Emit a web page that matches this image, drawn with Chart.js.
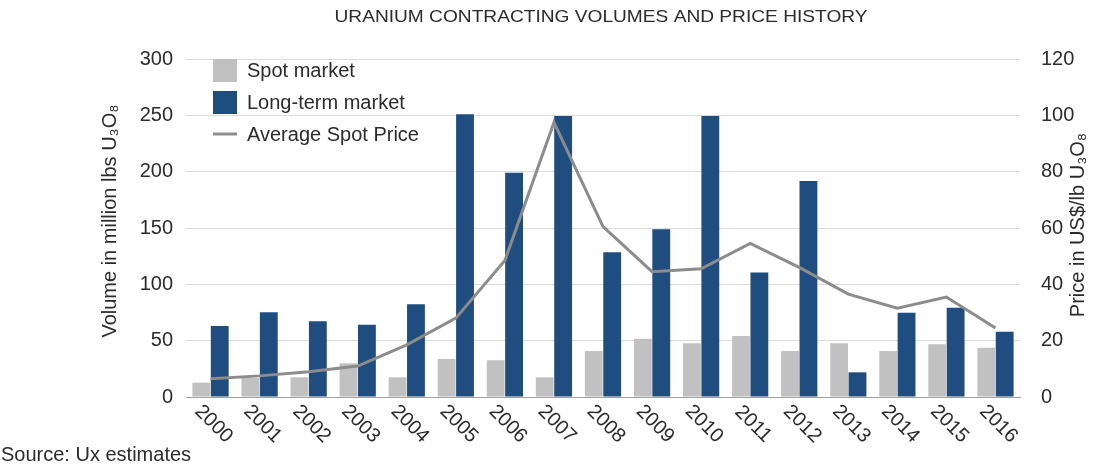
<!DOCTYPE html>
<html>
<head>
<meta charset="utf-8">
<script src="https://cdn.jsdelivr.net/npm/chart.js@4"></script>
<style>
  html, body { margin: 0; padding: 0; background: #fff; }
  #wrap { width: 1099px; height: 464px; position: relative; }
</style>
</head>
<body>
<div id="wrap"><canvas id="myChart" width="1099" height="464"></canvas></div>
<script>
const years = ['2000','2001','2002','2003','2004','2005','2006','2007','2008','2009','2010','2011','2012','2013','2014','2015','2016'];
const spotVolume = [12.7, 16.9, 17.5, 29.9, 17.5, 33.7, 32.6, 17.5, 40.8, 51.7, 47.6, 54.1, 40.8, 47.6, 40.8, 46.8, 43.7];
const longTermVolume = [63, 75.2, 67.2, 64.2, 82.3, 251, 199, 249.3, 128.4, 148.8, 249.3, 110.6, 191.7, 21.9, 74.8, 79.2, 57.9];
const spotPrice = [6.5, 7.5, 9, 11, 18.5, 28, 48.5, 97.5, 60.5, 44.5, 45.5, 54.5, 46, 36.5, 31.5, 35.5, 24.5];
const volumeTicks = [0, 50, 100, 150, 200, 250, 300];
const priceTicks = [0, 20, 40, 60, 80, 100, 120];

const FONT = '"Liberation Sans", Arial, Helvetica, sans-serif';
const TEXT = '#2b2b2b';

// titel, legenda, as-labels en bron tekenen
const decorations = {
    id: 'decorations',
    afterDraw(chart) {
        const ctx = chart.ctx;
        const xs = chart.scales.x;
        ctx.save();

        // titel (smal lettertype, breedte gelijk aan origineel)
        ctx.fillStyle = TEXT;
        ctx.font = '17px "Liberation Sans Narrow", ' + FONT;
        ctx.textBaseline = 'middle';
        ctx.textAlign = 'center';
        const title = 'URANIUM CONTRACTING VOLUMES AND PRICE HISTORY';
        const w = ctx.measureText(title).width;
        ctx.save();
        ctx.translate(601, 17);
        ctx.scale(533 / w, 1);
        ctx.fillText(title, 0, 0);
        ctx.restore();

        // x-labels schuin naar rechtsonder
        ctx.font = '20px ' + FONT;
        years.forEach((y, i) => {
            const px = xs.getPixelForTick(i);
            ctx.save();
            ctx.translate(px + 3, 424);
            ctx.rotate(Math.PI / 4);
            ctx.textAlign = 'center';
            ctx.textBaseline = 'middle';
            ctx.fillText(y, 0, 0);
            ctx.restore();
        });

        // astitels
        ctx.save();
        ctx.translate(110, 221);
        ctx.rotate(-Math.PI / 2);
        ctx.fillText('Volume in million lbs U\u2083O\u2088', 0, 0);
        ctx.restore();
        ctx.save();
        ctx.translate(1078, 225);
        ctx.rotate(-Math.PI / 2);
        ctx.fillText('Price in US$/lb U\u2083O\u2088', 0, 0);
        ctx.restore();

        // legenda
        const ds = chart.data.datasets;
        const lx = 213, rows = [70, 102, 134];
        ctx.textAlign = 'left';
        ds.forEach((d, i) => {
            const cy = rows[i];
            if (d.type === 'line') {
                ctx.strokeStyle = d.borderColor;
                ctx.lineWidth = 3;
                ctx.beginPath();
                ctx.moveTo(lx, cy);
                ctx.lineTo(lx + 24, cy);
                ctx.stroke();
            } else {
                ctx.fillStyle = d.backgroundColor;
                ctx.fillRect(lx, cy - 11, 24, 23);
            }
            ctx.fillStyle = TEXT;
            ctx.fillText(d.label, lx + 34, cy + 1);
        });

        // bron
        ctx.font = '20px ' + FONT;
        ctx.textBaseline = 'alphabetic';
        ctx.fillText('Source: Ux estimates', 1, 461);
        ctx.restore();
    }
};

const ctx = document.getElementById('myChart').getContext('2d');
new Chart(ctx, {
    data: {
        labels: years,
        datasets: [
            {
                type: 'bar',
                label: 'Spot market',
                data: spotVolume,
                backgroundColor: '#c1c1c1',
                yAxisID: 'y',
                order: 2,
                categoryPercentage: 0.75,
                barPercentage: 0.97
            },
            {
                type: 'bar',
                label: 'Long-term market',
                data: longTermVolume,
                backgroundColor: '#1f4d7f',
                yAxisID: 'y',
                order: 2,
                categoryPercentage: 0.75,
                barPercentage: 0.97
            },
            {
                type: 'line',
                label: 'Average Spot Price',
                data: spotPrice,
                borderColor: '#8c8c8c',
                borderWidth: 3,
                pointRadius: 0,
                tension: 0,
                yAxisID: 'y1',
                order: 0
            }
        ]
    },
    options: {
        responsive: false,
        animation: false,
        layout: { padding: { top: 59, left: 0, right: 0, bottom: 0 } },
        plugins: { legend: { display: false }, tooltip: { enabled: false } },
        scales: {
            x: {
                grid: { display: false },
                border: { display: true, color: '#a0a0a0', width: 1 },
                ticks: { display: false },
                afterFit(s) { s.height = 67; }
            },
            y: {
                position: 'left',
                min: 0, max: 300,
                afterBuildTicks(s) { s.ticks = volumeTicks.map(v => ({ value: v })); },
                grid: { color: '#dcdcdc', drawTicks: false },
                border: { display: false },
                ticks: { color: TEXT, font: { family: FONT, size: 20 }, padding: 13 },
                afterFit(s) { s.width = 186; }
            },
            y1: {
                position: 'right',
                min: 0, max: 120,
                afterBuildTicks(s) { s.ticks = priceTicks.map(v => ({ value: v })); },
                grid: { display: false },
                border: { display: false },
                ticks: { color: TEXT, font: { family: FONT, size: 20 }, padding: 13 },
                afterFit(s) { s.width = 79; }
            }
        }
    },
    plugins: [decorations]
});
</script>
</body>
</html>
